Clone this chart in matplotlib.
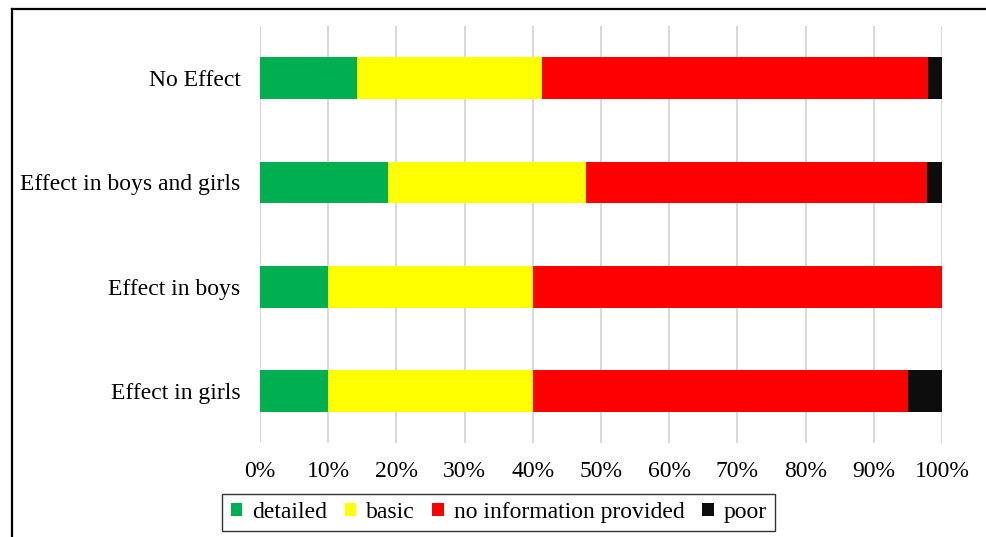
import matplotlib.pyplot as plt
from matplotlib.lines import Line2D
from matplotlib.ticker import PercentFormatter
import numpy as np

plt.rcParams['font.family'] = ['Liberation Serif', 'DejaVu Serif']

# data: share of studies per reporting quality (%)
categorias = ['No Effect', 'Effect in boys and girls', 'Effect in boys', 'Effect in girls']
series = ['detailed', 'basic', 'no information provided', 'poor']
detailed = [14.2, 18.8, 10.0, 10.0]
basic = [27.1, 29.0, 30.0, 30.0]
no_info = [56.6, 50.0, 60.0, 55.0]
poor = [2.1, 2.2, 0.0, 5.0]
colores = ['#00B050', '#FFFF00', '#FF0000', '#0D0D0D']

fig = plt.figure(figsize=(9.86, 5.37), dpi=100)
ax = fig.add_axes([0.2637, 0.175, 0.6917, 0.7765])

y = np.arange(len(categorias))
left = np.zeros(len(categorias))
for nombre, vals, c in zip(series, [detailed, basic, no_info, poor], colores):
    ax.barh(y, vals, left=left, height=0.4, color=c, label=nombre, zorder=3)
    left += np.array(vals)

ax.set_ylim(len(categorias) - 0.5, -0.5)
ax.set_xlim(0, 100)
ax.set_yticks(y)
ax.set_yticklabels(categorias, fontsize=17)
ax.set_xticks(np.arange(0, 101, 10))
ax.xaxis.set_major_formatter(PercentFormatter(decimals=0))
ax.tick_params(axis='x', labelsize=17, length=0, pad=13)
ax.tick_params(axis='y', length=0, pad=14)
ax.grid(axis='x', color='#D9D9D9', linewidth=1.5, zorder=0)
for s in ax.spines.values():
    s.set_visible(False)

leg = fig.legend(loc='center', bbox_to_anchor=(0.5056, 0.0456), ncol=4, fontsize=17,
                 frameon=True, fancybox=False, edgecolor='black', handlelength=0.5,
                 handleheight=0.5, handletextpad=0.4, columnspacing=0.75,
                 borderpad=0.35, borderaxespad=0)
leg.get_frame().set_linewidth(1.0)

# outer frame (left and top edges)
fig.add_artist(Line2D([12 / 986, 12 / 986], [0, 1 - 9 / 537], color='black', linewidth=1.6,
                      transform=fig.transFigure))
fig.add_artist(Line2D([12 / 986, 1], [1 - 9 / 537, 1 - 9 / 537], color='black', linewidth=1.6,
                      transform=fig.transFigure))

fig.savefig('out.png', dpi=100)
